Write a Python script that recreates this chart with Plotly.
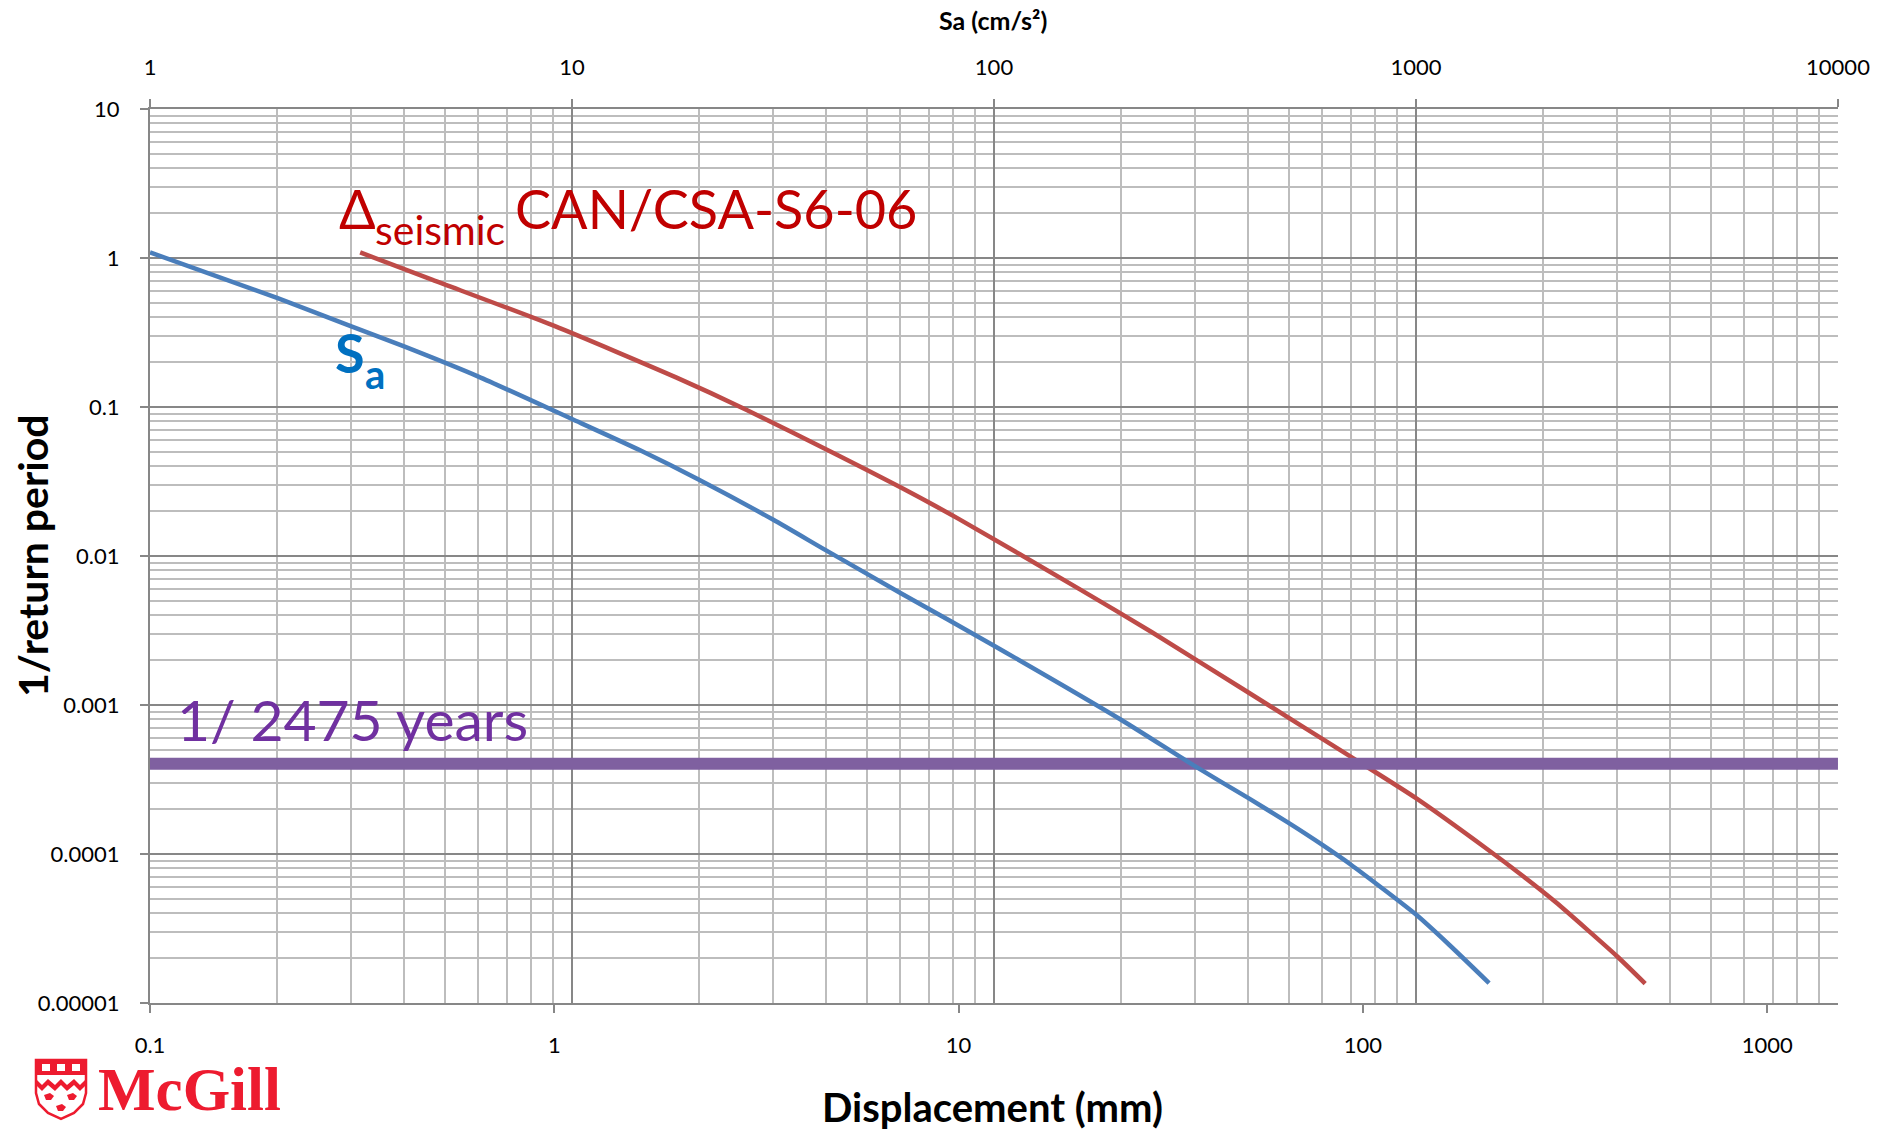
import plotly.graph_objects as go

# Seismic hazard curves: annual exceedance rate (1/return period)
# Spectral acceleration hazard curve (top axis, cm/s^2)
sa_cms2 = [1, 2, 3, 4, 6, 10, 14.5, 20, 30, 40, 60, 100, 200, 300, 400, 500, 600, 700,
           1000, 1200, 1490]
sa_rate = [1.09, 0.54, 0.348, 0.255, 0.160, 0.083, 0.0512, 0.0325, 0.0175, 0.0109, 0.00565,
           0.0025, 0.000796, 0.000387, 0.000238, 0.000161, 0.000115, 8.5e-5,
           3.92e-5, 2.45e-5, 1.36e-5]

# Seismic displacement per CAN/CSA-S6-06 (bottom axis, mm)
disp_mm = [0.331, 0.5, 1, 2, 3, 5, 7.16, 10, 20, 30, 50, 70, 100, 135, 200, 250, 300, 425, 499]
disp_rate = [1.09, 0.713, 0.35, 0.158, 0.0952, 0.0478, 0.029, 0.01775, 0.00595, 0.00309,
             0.0013, 0.000733, 0.0004, 0.000238, 0.000111, 7.03e-5, 4.74e-5, 2.06e-5, 1.35e-5]

# Design level: 2% in 50 years
design_return_period = 2475
design_disp_span = [0.1, 1496]

# Tick labels
y_tickvals = [10, 1, 0.1, 0.01, 0.001, 0.0001, 0.00001]
y_ticktext = ["10", "1", "0.1", "0.01", "0.001", "0.0001", "0.00001"]
sa_tickvals = [1, 10, 100, 1000, 10000]
sa_ticktext = ["1", "10", "100", "1000", "10000"]
disp_tickvals = [0.1, 1, 10, 100, 1000]
disp_ticktext = ["0.1", "1", "10", "100", "1000"]

y_minor = [m * 10.0 ** k for k in range(-5, 1) for m in range(2, 10)]
sa_minor = [m * 10.0 ** k for k in range(0, 4) for m in range(2, 10)]

W, H = 1886, 1131
L, R, T, B = 150, 48, 109, 128
PW, PH = W - L - R, H - T - B


def paper(px, py):
    return (px - L) / PW, (H - B - py) / PH


MAJOR = "#878787"
MINOR = "#BDBDBD"
FONT = "Lato"

fig = go.Figure()

fig.add_trace(go.Scatter(
    x=disp_mm, y=disp_rate, xaxis="x", yaxis="y", mode="lines",
    line=dict(color="#BE4B48", width=4.5, shape="spline", smoothing=0.6),
    hoverinfo="skip"))

fig.add_trace(go.Scatter(
    x=sa_cms2, y=sa_rate, xaxis="x2", yaxis="y", mode="lines",
    line=dict(color="#4A7EBB", width=4.5, shape="spline", smoothing=0.6),
    hoverinfo="skip"))

fig.add_trace(go.Scatter(
    x=design_disp_span, y=[1 / design_return_period] * 2, xaxis="x", yaxis="y",
    mode="lines", line=dict(color="#7F60A0", width=12), hoverinfo="skip"))

tickfont = dict(family=FONT, size=22, color="#000000")

fig.update_layout(
    width=W, height=H,
    margin=dict(l=L, r=R, t=T, b=B),
    plot_bgcolor="white", paper_bgcolor="white",
    showlegend=False,
    font=dict(family=FONT, color="#000000"),
    xaxis=dict(
        type="log", range=[-1, 3.175], showgrid=False, zeroline=False,
        tickmode="array", tickvals=disp_tickvals, ticktext=disp_ticktext,
        ticks="outside", ticklen=8, tickwidth=2, tickcolor=MAJOR,
        showline=True, linecolor=MAJOR, linewidth=2,
        tickfont=tickfont, ticklabelstandoff=14),
    xaxis2=dict(
        type="log", range=[0, 4], overlaying="x", side="top", anchor="y",
        showgrid=True, gridcolor=MAJOR, gridwidth=2, zeroline=False,
        tickmode="array", tickvals=sa_tickvals, ticktext=sa_ticktext,
        ticks="outside", ticklen=8, tickwidth=2, tickcolor=MAJOR,
        showline=True, linecolor=MAJOR, linewidth=2,
        tickfont=tickfont, ticklabelstandoff=15,
        minor=dict(tickmode="array", tickvals=sa_minor, showgrid=True,
                   gridcolor=MINOR, gridwidth=1.5, ticks="")),
    yaxis=dict(
        type="log", range=[-5, 1], showgrid=True, gridcolor=MAJOR, gridwidth=2,
        zeroline=False, tickmode="array", tickvals=y_tickvals, ticktext=y_ticktext,
        ticks="outside", ticklen=8, tickwidth=2, tickcolor=MAJOR,
        showline=True, linecolor=MAJOR, linewidth=2,
        tickfont=tickfont, ticklabelstandoff=16,
        minor=dict(tickmode="array", tickvals=y_minor, showgrid=True,
                   gridcolor=MINOR, gridwidth=1.5, ticks="")),
)


def label(text, px, py, size, color, bold=False, xanchor="left", angle=0, family=FONT):
    x, y = paper(px, py)
    if bold:
        text = "<b>" + text + "</b>"
    fig.add_annotation(text=text, x=x, y=y, xref="paper", yref="paper",
                       xanchor=xanchor, yanchor="middle", showarrow=False,
                       textangle=angle, borderpad=0,
                       font=dict(family=family, size=size, color=color))


# Curve labels
label("Δ", 338, 229 - 0.387 * 54, 54, "#C00000")
label("seismic", 374, 245 - 0.387 * 41, 41, "#C00000")
label("CAN/CSA-S6-06", 514, 229 - 0.387 * 54, 54, "#C00000")
label("S", 334, 373 - 0.387 * 54, 54, "#0070C0", bold=True)
label("a", 364, 389 - 0.387 * 40, 40, "#0070C0", bold=True)
label("1/ 2475 years", 176, 741 - 0.387 * 57, 57, "#7030A0")

# Axis titles
label("Sa (cm/s²)", 993, 20, 25, "#000000", bold=True, xanchor="center")
label("Displacement (mm)", 992, 1107, 40, "#000000", bold=True, xanchor="center")
label("1/return period", 32, 556, 41, "#000000", bold=True, xanchor="center", angle=-90)

# University wordmark
label("<b>McGill</b>", 97, 1089, 61, "#ED1B2F", family="Liberation Serif")


def path(points):
    pts = [paper(px, py) for px, py in points]
    return "M " + " L ".join(f"{x:.5f},{y:.5f}" for x, y in pts) + " Z"


shield = [(36, 1060), (86, 1060), (86, 1093), (83, 1104), (74, 1113), (61, 1119),
          (48, 1113), (39, 1104), (36, 1093)]
fig.add_shape(type="path", path=path(shield), xref="paper", yref="paper",
              fillcolor="#FFFFFF", line=dict(color="#ED1B2F", width=2.5))
fig.add_shape(type="path", path=path([(36, 1060), (86, 1060), (86, 1075), (36, 1075)]),
              xref="paper", yref="paper", fillcolor="#ED1B2F", line=dict(width=0))
for cx in (46, 61, 76):
    fig.add_shape(type="path",
                  path=path([(cx - 4, 1064), (cx + 4, 1064), (cx + 4, 1071), (cx - 4, 1071)]),
                  xref="paper", yref="paper", fillcolor="#FFFFFF", line=dict(width=0))
dancette = [(36, 1079), (42, 1085), (48, 1079), (55, 1085), (61, 1079), (67, 1085),
            (74, 1079), (80, 1085), (86, 1079), (86, 1085), (80, 1091), (74, 1085),
            (67, 1091), (61, 1085), (55, 1091), (48, 1085), (42, 1091), (36, 1085)]
fig.add_shape(type="path", path=path(dancette), xref="paper", yref="paper",
              fillcolor="#ED1B2F", line=dict(width=0))
for cx, cy in ((49, 1097), (72, 1097), (61, 1108)):
    fig.add_shape(type="path",
                  path=path([(cx - 5, cy - 2), (cx + 1, cy - 4), (cx + 5, cy - 1),
                             (cx + 2, cy + 3), (cx - 3, cy + 3)]),
                  xref="paper", yref="paper", fillcolor="#ED1B2F", line=dict(width=0))

fig.write_html("out.html")
